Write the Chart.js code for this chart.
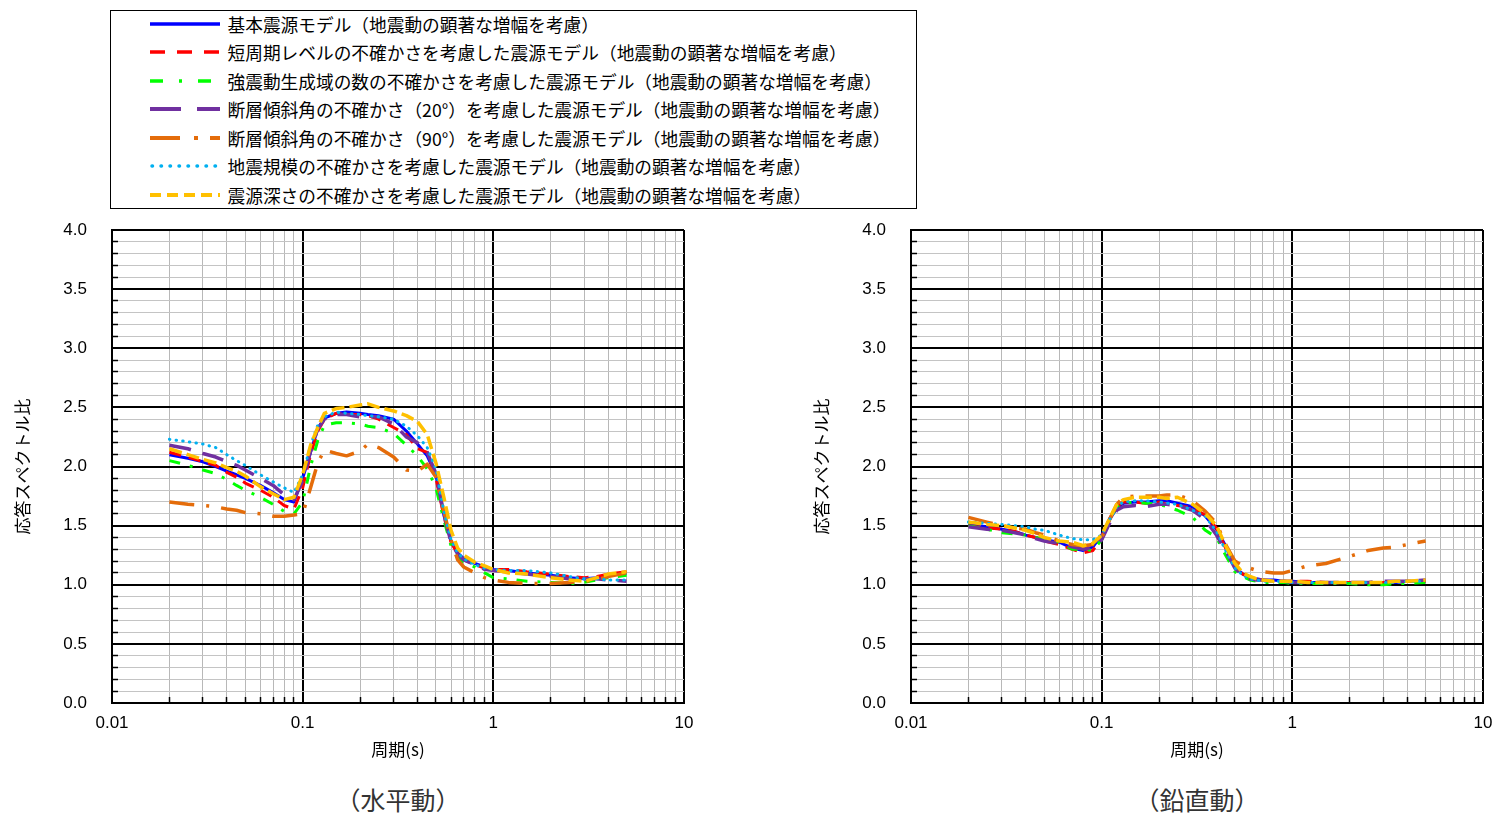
<!DOCTYPE html>
<html lang="ja">
<head>
<meta charset="utf-8">
<script src="https://cdn.jsdelivr.net/npm/chart.js@4.4.1/dist/chart.umd.min.js"></script>
<style>
body { margin:0; width:1496px; height:813px; overflow:hidden; background:#fff; position:relative; font-family:"Noto Sans CJK JP", sans-serif; }
#legend { position:absolute; left:110px; top:10px; width:805px; height:197px; border:1.5px solid #000; }
.row { position:absolute; left:0; height:20px; display:flex; align-items:center; font-size:17.7px; white-space:nowrap; color:#000; }
.row svg { margin-left:38.5px; margin-right:8px; }
canvas { position:absolute; }
.cap { position:absolute; top:784px; width:572px; text-align:center; font-size:25px; line-height:30px; color:#333; }
</style>
</head>
<body>
<div id="legend"></div>
<canvas id="hChart" width="714" height="590" style="left:0px;top:185px"></canvas>
<canvas id="vChart" width="714" height="590" style="left:799px;top:185px"></canvas>
<div class="cap" style="left:112px">（水平動）</div>
<div class="cap" style="left:911px">（鉛直動）</div>
<script>
// periods (s)
const periods = [0.02, 0.025, 0.03, 0.035, 0.04, 0.045, 0.05, 0.06, 0.07, 0.08, 0.09,
  0.1, 0.11, 0.12, 0.13, 0.15, 0.17, 0.2, 0.22, 0.25, 0.3, 0.35, 0.4, 0.45, 0.5, 0.55, 0.6, 0.65, 0.7, 0.8, 0.9,
  1.0, 1.2, 1.5, 2.0, 2.5, 3.0, 3.5, 4.0, 5.0];

const seriesNames = [
  "基本震源モデル（地震動の顕著な増幅を考慮）",
  "短周期レベルの不確かさを考慮した震源モデル（地震動の顕著な増幅を考慮）",
  "強震動生成域の数の不確かさを考慮した震源モデル（地震動の顕著な増幅を考慮）",
  "断層傾斜角の不確かさ（20°）を考慮した震源モデル（地震動の顕著な増幅を考慮）",
  "断層傾斜角の不確かさ（90°）を考慮した震源モデル（地震動の顕著な増幅を考慮）",
  "地震規模の不確かさを考慮した震源モデル（地震動の顕著な増幅を考慮）",
  "震源深さの不確かさを考慮した震源モデル（地震動の顕著な増幅を考慮）"
];

// horizontal (水平動)
const hBase  = [2.10,2.07,2.04,2.00,1.96,1.93,1.90,1.84,1.78,1.72,1.70, 1.90,2.12,2.32,2.41,2.45,2.46,2.45,2.44,2.43,2.40,2.30,2.19,2.09,1.93,1.59,1.37,1.27,1.22,1.18,1.15, 1.13,1.12,1.10,1.08,1.06,1.05,1.06,1.08,1.10];
const hShort = [2.12,2.08,2.04,2.01,1.95,1.91,1.86,1.80,1.74,1.67,1.64, 1.82,2.10,2.30,2.40,2.45,2.44,2.44,2.43,2.40,2.33,2.27,2.15,2.12,1.90,1.58,1.36,1.26,1.21,1.17,1.14, 1.13,1.13,1.11,1.09,1.07,1.06,1.07,1.09,1.11];
const hAsp   = [2.05,2.01,1.97,1.94,1.89,1.84,1.80,1.74,1.68,1.62,1.60, 1.70,2.00,2.22,2.35,2.37,2.37,2.36,2.34,2.33,2.28,2.18,2.09,1.98,1.82,1.55,1.33,1.23,1.19,1.15,1.10, 1.06,1.05,1.03,1.02,1.01,1.02,1.04,1.06,1.08];
const hDip20 = [2.18,2.15,2.11,2.08,2.04,2.01,1.97,1.90,1.84,1.76,1.72, 1.88,2.13,2.32,2.40,2.44,2.44,2.42,2.42,2.42,2.36,2.25,2.20,2.12,1.94,1.60,1.36,1.26,1.21,1.17,1.13, 1.12,1.11,1.09,1.07,1.05,1.05,1.05,1.04,1.03];
const hDip90 = [1.70,1.68,1.67,1.66,1.64,1.63,1.61,1.60,1.58,1.58,1.59, 1.60,1.82,2.03,2.14,2.11,2.09,2.13,2.19,2.16,2.08,1.97,1.96,2.02,1.91,1.62,1.38,1.21,1.15,1.10,1.06, 1.04,1.02,1.01,1.01,1.02,1.03,1.04,1.07,1.10];
const hMag   = [2.23,2.21,2.19,2.16,2.10,2.05,2.01,1.93,1.87,1.82,1.78, 1.93,2.18,2.35,2.42,2.46,2.45,2.44,2.43,2.42,2.40,2.34,2.26,2.16,1.98,1.62,1.38,1.27,1.22,1.17,1.14, 1.13,1.12,1.12,1.10,1.07,1.05,1.05,1.04,1.04];
const hDepth = [2.15,2.10,2.06,2.03,1.99,1.96,1.92,1.83,1.77,1.72,1.74, 1.93,2.18,2.33,2.45,2.49,2.50,2.52,2.53,2.50,2.47,2.43,2.38,2.27,2.03,1.74,1.46,1.31,1.25,1.19,1.16, 1.13,1.10,1.09,1.06,1.04,1.03,1.06,1.09,1.11];

// vertical (鉛直動)
const vBase  = [1.51,1.49,1.47,1.45,1.42,1.40,1.38,1.36,1.31,1.29,1.32, 1.42,1.55,1.65,1.69,1.70,1.70,1.71,1.71,1.69,1.66,1.58,1.47,1.32,1.15,1.09,1.06,1.05,1.04,1.04,1.03, 1.03,1.02,1.02,1.02,1.02,1.02,1.02,1.03,1.03];
const vShort = [1.50,1.48,1.47,1.45,1.42,1.40,1.37,1.34,1.30,1.27,1.29, 1.40,1.56,1.66,1.70,1.70,1.69,1.70,1.68,1.67,1.65,1.59,1.48,1.30,1.15,1.09,1.06,1.05,1.04,1.03,1.03, 1.03,1.03,1.02,1.02,1.02,1.02,1.02,1.03,1.03];
const vAsp   = [1.50,1.47,1.44,1.43,1.42,1.40,1.39,1.36,1.30,1.30,1.29, 1.38,1.55,1.66,1.69,1.70,1.69,1.68,1.66,1.63,1.57,1.46,1.40,1.24,1.11,1.07,1.04,1.03,1.02,1.02,1.02, 1.01,1.01,1.01,1.01,1.00,1.00,1.01,1.01,1.02];
const vDip20 = [1.49,1.47,1.46,1.44,1.42,1.39,1.37,1.35,1.32,1.30,1.32, 1.38,1.52,1.63,1.66,1.67,1.66,1.68,1.68,1.67,1.63,1.55,1.42,1.28,1.14,1.08,1.05,1.04,1.04,1.03,1.03, 1.02,1.02,1.02,1.02,1.02,1.03,1.03,1.03,1.04];
const vDip90 = [1.57,1.53,1.50,1.48,1.47,1.44,1.42,1.37,1.34,1.33,1.34, 1.40,1.55,1.68,1.74,1.75,1.75,1.75,1.76,1.76,1.71,1.62,1.52,1.33,1.20,1.16,1.14,1.12,1.11,1.10,1.10, 1.12,1.16,1.18,1.24,1.29,1.31,1.32,1.34,1.37];
const vMag   = [1.53,1.52,1.51,1.50,1.49,1.47,1.46,1.42,1.39,1.38,1.38, 1.42,1.55,1.66,1.70,1.71,1.71,1.70,1.69,1.68,1.63,1.58,1.45,1.28,1.14,1.08,1.05,1.04,1.03,1.03,1.03, 1.02,1.02,1.02,1.02,1.02,1.02,1.02,1.03,1.03];
const vDepth = [1.53,1.51,1.50,1.48,1.46,1.43,1.40,1.37,1.36,1.33,1.35, 1.42,1.56,1.68,1.72,1.74,1.74,1.74,1.73,1.74,1.68,1.60,1.50,1.32,1.18,1.10,1.07,1.05,1.04,1.03,1.03, 1.03,1.02,1.02,1.02,1.02,1.02,1.03,1.03,1.04];

// tick labels
const xTickLabels = ["0.01", "0.1", "1", "10"];
const yTickLabels = ["0.0","0.5","1.0","1.5","2.0","2.5","3.0","3.5","4.0"];

// line styles (chart lines, and the longer legend samples)
const colors = ["#0000ff", "#ff0000", "#00ff00", "#7030a0", "#e46c0a", "#00b0f0", "#ffc000"];
const dashes = [[], [12, 8], [11, 10, 3, 10], [22, 12], [25, 12, 3, 12], [0.5, 6.2], [13, 5]];
const legendDashes = [[], [15, 12], [13, 16, 3, 16], [31, 16], [30, 14, 4, 12], [0.5, 8.5], [11, 6]];
const widths = [3, 3, 3, 3.5, 3.5, 3, 3.5];

// gridlines: 1..9 x each decade, 0.1 steps on y
const xGrid = [];
for (let e = -2; e < 1; e++) {
  for (let m = 1; m < 10; m++) xGrid.push(Number((m * Math.pow(10, e)).toPrecision(4)));
}
xGrid.push(10);
const yGrid = [];
for (let i = 0; i <= 40; i++) yGrid.push(i / 10);

function isDecade(v) {
  let l = Math.log10(v);
  return Math.abs(l - Math.round(l)) < 1e-6;
}
function isHalf(v) {
  return Math.abs(v * 2 - Math.round(v * 2)) < 1e-6;
}

// legend
let legend = document.getElementById("legend");
seriesNames.forEach((name, i) => {
  let row = document.createElement("div");
  row.className = "row";
  row.style.top = (24 + i * 28.5 - 10 - 11.5) + "px";
  let cap = i == 5 ? "round" : "butt";
  row.innerHTML = `<svg width="70" height="10"><line x1="${i == 5 ? 2 : 0}" y1="5" x2="70" y2="5"
      stroke="${colors[i]}" stroke-width="${widths[i] + 0.5}" stroke-linecap="${cap}"
      stroke-dasharray="${legendDashes[i].join(' ')}"/></svg><span>${name}</span>`;
  legend.appendChild(row);
});

function makeChart(id, seriesList) {
  let datasets = seriesList.map((vals, i) => ({
    label: seriesNames[i],
    data: periods.map((t, k) => ({x: t, y: vals[k]})),
    borderColor: colors[i],
    borderWidth: widths[i],
    borderDash: dashes[i],
    borderCapStyle: i == 5 ? "round" : "butt",
    borderJoinStyle: "round",
    pointRadius: 0,
    fill: false,
    tension: 0,
    order: seriesList.length - i
  }));

  let tickFont = {family: "'Liberation Sans', Arial, sans-serif", size: 17};
  let titleFont = {family: "'Noto Sans CJK JP', sans-serif", size: 17};

  return new Chart(document.getElementById(id), {
    type: "line",
    data: {datasets: datasets},
    options: {
      responsive: false,
      animation: false,
      devicePixelRatio: 1,
      events: [],
      // top/right kept larger than the tick-label padding chart.js reserves
      layout: {padding: {left: 0, top: 45, right: 30, bottom: 15}},
      plugins: {legend: {display: false}, tooltip: {enabled: false}},
      scales: {
        x: {
          type: "logarithmic",
          min: 0.01,
          max: 10,
          afterBuildTicks: s => { s.ticks = xGrid.map(v => ({value: v})); },
          afterFit: s => { s.height = 57; },
          ticks: {
            autoSkip: false,
            maxRotation: 0,
            padding: 16,
            color: "#000",
            font: tickFont,
            callback: v => isDecade(v) ? xTickLabels[Math.round(Math.log10(v)) + 2] : ""
          },
          grid: {
            color: c => isDecade(c.tick.value) ? "#000" : "#b8b8b8",
            lineWidth: c => isDecade(c.tick.value) ? 2 : 1,
            tickLength: -6,
            tickColor: "#000",
            tickWidth: 1.5
          },
          border: {color: "#000", width: 2},
          title: {display: true, text: "周期(s)", color: "#000", font: titleFont, padding: 0}
        },
        y: {
          type: "linear",
          min: 0,
          max: 4,
          afterBuildTicks: s => { s.ticks = yGrid.map(v => ({value: v})); },
          afterFit: s => { s.width = 112; },
          ticks: {
            autoSkip: false,
            padding: 31,
            color: "#000",
            font: tickFont,
            callback: v => isHalf(v) ? yTickLabels[Math.round(v * 2)] : ""
          },
          grid: {
            color: c => isHalf(c.tick.value) ? "#000" : "#c4c4c4",
            lineWidth: c => isHalf(c.tick.value) ? 2 : 1,
            tickLength: -6,
            tickColor: "#000",
            tickWidth: 1.5
          },
          border: {color: "#000", width: 2},
          title: {display: true, text: "応答スペクトル比", color: "#000", font: titleFont, padding: {top: 12, bottom: 0}}
        }
      }
    }
  });
}

makeChart("hChart", [hBase, hShort, hAsp, hDip20, hDip90, hMag, hDepth]);
makeChart("vChart", [vBase, vShort, vAsp, vDip20, vDip90, vMag, vDepth]);
</script>
</body>
</html>
